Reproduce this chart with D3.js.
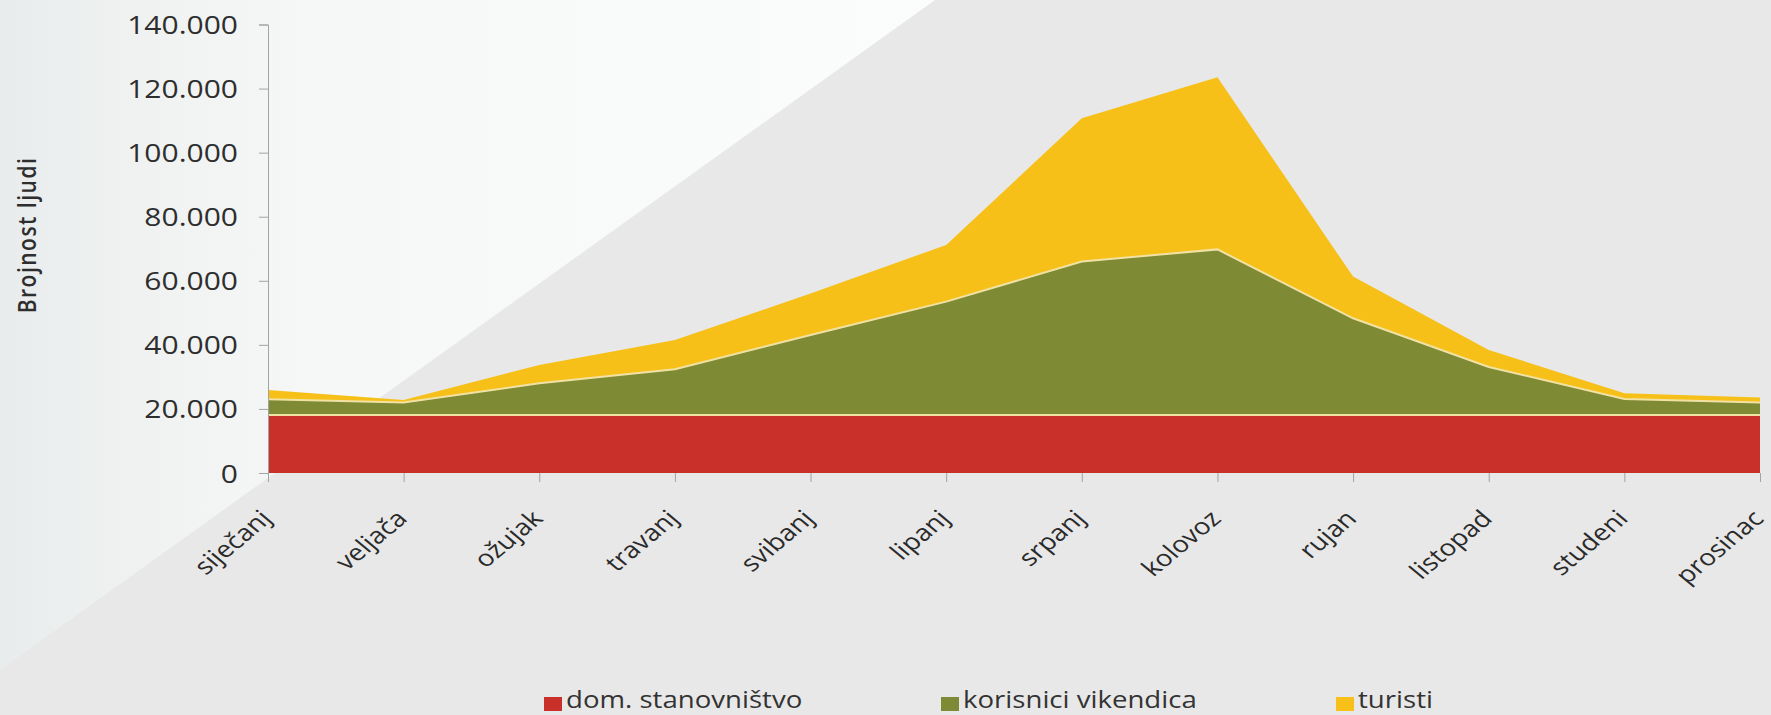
<!DOCTYPE html>
<html>
<head>
<meta charset="utf-8">
<script src="https://cdn.jsdelivr.net/npm/d3@7"></script>
<style>
  html, body { margin: 0; padding: 0; background: #e8e8e8; }
  svg { display: block; font-family: "Open Sans", "Noto Sans", sans-serif; }
</style>
</head>
<body>
<svg id="chart" width="1771" height="715"></svg>
<script>
// Chart data
const months = ['siječanj', 'veljača', 'ožujak', 'travanj', 'svibanj', 'lipanj',
    'srpanj', 'kolovoz', 'rujan', 'listopad', 'studeni', 'prosinac'];
const domStanovnistvo = [18100, 18100, 18100, 18100, 18100, 18100,
    18100, 18100, 18100, 18100, 18100, 18100];
const korisniciVikendica = [4900, 3900, 9900, 14300, 25000, 35400,
    47900, 51700, 30200, 15000, 5000, 3900];
const turisti = [2900, 800, 5700, 9100, 12900, 17700,
    44700, 53700, 13000, 5300, 1800, 1600];
const yTicks = [0, 20000, 40000, 60000, 80000, 100000, 120000, 140000];

const seriesKeys = ['dom', 'vik', 'tur'];
const seriesLabels = ['dom. stanovništvo', 'korisnici vikendica', 'turisti'];
const colors = { dom: '#c9302a', vik: '#7f8a35', tur: '#f6c018' };

const W = 1771, H = 715;
const SX = 1.2; // the source image is stretched horizontally

const svg = d3.select('#chart');

// Background: grey with a pale diagonal wedge top-left
const defs = svg.append('defs');
const grad = defs.append('linearGradient').attr('id', 'bg-grad')
    .attr('x1', 0).attr('y1', 0).attr('x2', 1).attr('y2', 0);
grad.append('stop').attr('offset', '0%').attr('stop-color', '#e9ecec');
grad.append('stop').attr('offset', '15%').attr('stop-color', '#f0f2f2');
grad.append('stop').attr('offset', '35%').attr('stop-color', '#f6f7f7');
grad.append('stop').attr('offset', '100%').attr('stop-color', '#fbfcfc');

svg.append('rect').attr('width', W).attr('height', H).attr('fill', '#e8e8e8');
svg.append('path')
    .attr('d', 'M0,0L935,0L0,670Z')
    .attr('fill', 'url(#bg-grad)');

// Scales
const x = d3.scalePoint().domain(months).range([268, 1760]);
const y = d3.scaleLinear().domain([0, 140000]).range([473, 24.5]);

const fmt = d3.formatLocale({ decimal: ',', thousands: '.', grouping: [3], currency: ['', ''] }).format(',d');

// Stack
const rows = months.map((m, i) => ({
    month: m, dom: domStanovnistvo[i], vik: korisniciVikendica[i], tur: turisti[i]
}));
const stacked = d3.stack().keys(seriesKeys)(rows);

const area = d3.area()
    .x(d => x(d.data.month))
    .y0(d => y(d[0]))
    .y1(d => y(d[1]));

svg.append('g')
    .selectAll('path')
    .data(stacked)
    .join('path')
    .attr('fill', d => colors[d.key])
    .attr('d', area);

// Cream separator lines on top of the lower two layers
const topLine = d3.line()
    .x(d => x(d.data.month))
    .y(d => y(d[1]));

svg.append('g')
    .selectAll('path')
    .data(stacked.slice(0, 2))
    .join('path')
    .attr('fill', 'none')
    .attr('stroke', '#f1e2a4')
    .attr('stroke-width', 2)
    .attr('d', topLine);

// Y axis
const yAxis = svg.append('g')
    .attr('transform', `translate(${x(months[0])},0)`)
    .call(d3.axisLeft(y).tickValues(yTicks).tickFormat(fmt).tickSize(9));
yAxis.select('.domain').attr('stroke', '#a3a3a3');
yAxis.selectAll('.tick line').attr('stroke', '#a3a3a3');
yAxis.selectAll('.tick text')
    .attr('x', null)
    .attr('dy', '0.36em')
    .attr('transform', `translate(-30,0) scale(${SX},1)`)
    .attr('fill', '#2e2e2e')
    .attr('font-size', 25)
    .attr('font-family', '"Open Sans", sans-serif');

// X axis
const xAxis = svg.append('g')
    .attr('transform', `translate(0,${y(0)})`)
    .call(d3.axisBottom(x).tickSize(9).tickFormat(''));
xAxis.select('.domain').remove();
xAxis.selectAll('.tick line').attr('stroke', '#a3a3a3');

svg.append('g')
    .selectAll('text')
    .data(months)
    .join('text')
    .attr('transform', d => `translate(${x(d) + 5},${y(0) + 47}) scale(${SX},1) rotate(-45)`)
    .attr('text-anchor', 'end')
    .attr('fill', '#2a2a2a')
    .attr('font-size', 23)
    .text(d => d);

// Y title
svg.append('text')
    .attr('transform', `translate(36,235) scale(${SX},1) rotate(-90)`)
    .attr('text-anchor', 'middle')
    .attr('fill', '#2e2e2e')
    .attr('font-size', 21)
    .attr('font-weight', 600)
    .attr('letter-spacing', 1.5)
    .text('Brojnost ljudi');

// Legend
const legendX = [544, 941, 1336];
const legend = svg.append('g')
    .selectAll('g')
    .data(seriesKeys)
    .join('g')
    .attr('transform', (d, i) => `translate(${legendX[i]},708)`);
legend.append('rect')
    .attr('x', 0).attr('y', -11)
    .attr('width', 18).attr('height', 14)
    .attr('fill', d => colors[d]);
legend.append('text')
    .attr('transform', `translate(22,0) scale(${SX},1)`)
    .attr('fill', '#333')
    .attr('font-size', 23)
    .text((d, i) => seriesLabels[i]);
</script>
</body>
</html>
